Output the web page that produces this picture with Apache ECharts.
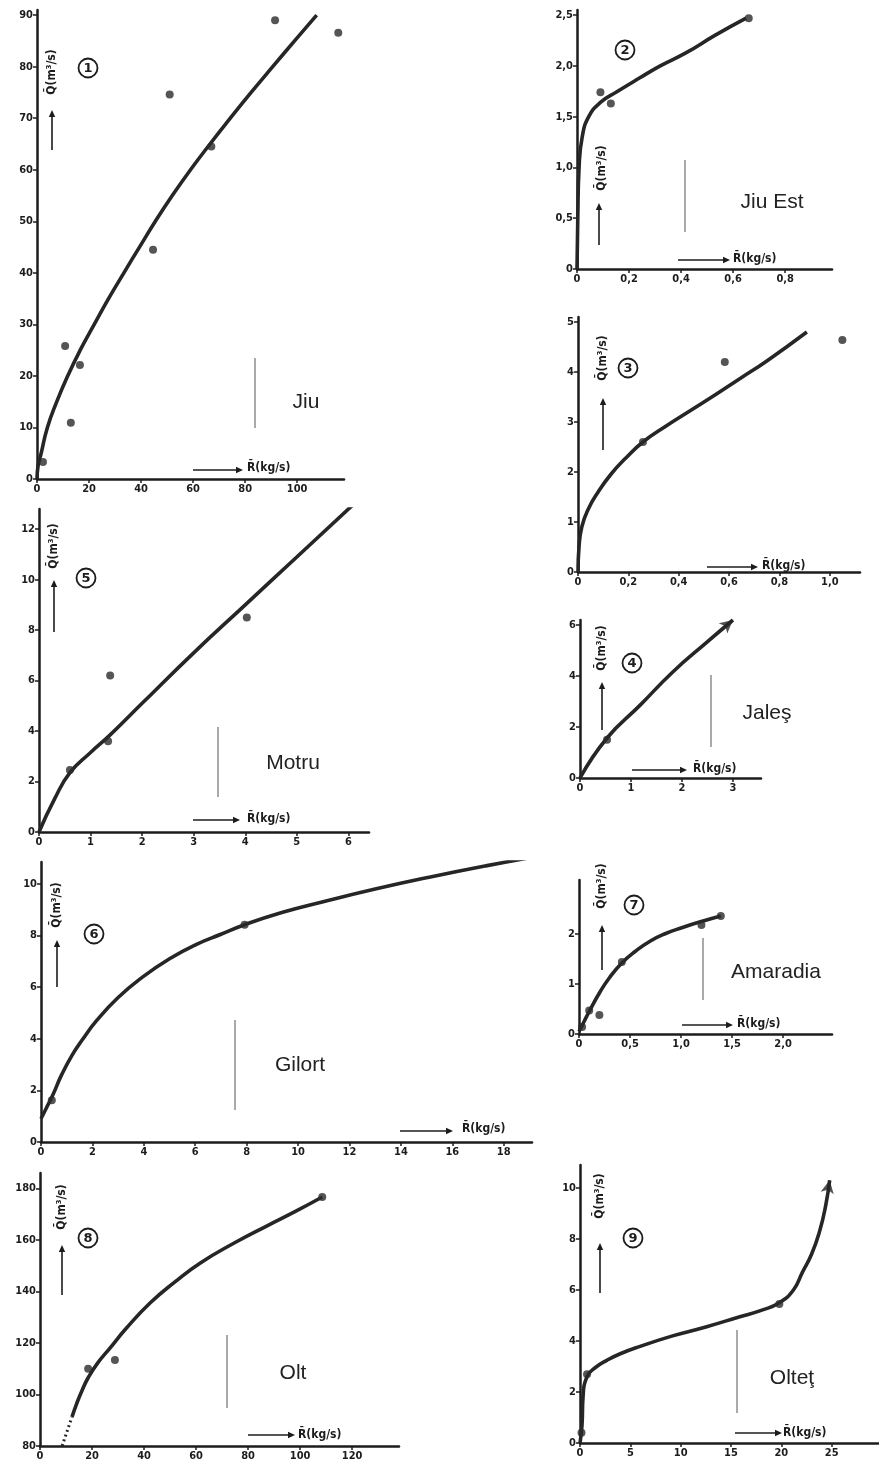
<!DOCTYPE html>
<html><head><meta charset="utf-8">
<script src="https://cdn.jsdelivr.net/npm/echarts@6/dist/echarts.min.js"></script>
<style>html,body{margin:0;padding:0;background:#fff}#c{width:879px;height:1470px}</style>
</head><body><div id="c"></div>
<script>
// ---------- DATA ----------
// 1 Jiu
const jiuCurve = [[0,0],[0.4,2.5],[1.6,5],[4,10],[7.6,15],[11.8,20],[16.6,25],[22,30],[27.5,35],[33.4,40],[39.4,45],[45.5,50],[52,55],[59,60],[66.5,65],[74.3,70],[82.3,75],[90.6,80],[99,85],[107.5,90]];
const jiuPts = [[2.3,3.3],[10.8,25.8],[13,10.9],[16.5,22.1],[44.6,44.5],[51,74.6],[67,64.5],[91.5,89],[115.8,86.6]];
const jiuXTicks = [0,20,40,60,80,100];
const jiuXLabels = ['0','20','40','60','80','100'];
const jiuYTicks = [0,10,20,30,40,50,60,70,80,90];
const jiuYLabels = ['0','10','20','30','40','50','60','70','80','90'];
// 2 Jiu Est
const jiuEstCurve = [[0,0],[0.003,0.5],[0.008,1.0],[0.02,1.3],[0.045,1.5],[0.09,1.64],[0.15,1.74],[0.24,1.88],[0.32,2.0],[0.42,2.13],[0.53,2.3],[0.65,2.47]];
const jiuEstPts = [[0.09,1.74],[0.13,1.63],[0.66,2.47]];
const jiuEstXTicks = [0,0.2,0.4,0.6,0.8];
const jiuEstXLabels = ['0','0,2','0,4','0,6','0,8'];
const jiuEstYTicks = [0,0.5,1,1.5,2,2.5];
const jiuEstYLabels = ['0','0,5','1,0','1,5','2,0','2,5'];
// 3 (unnamed)
const p3Curve = [[0,0],[0.004,0.5],[0.015,0.9],[0.04,1.25],[0.08,1.6],[0.13,1.95],[0.19,2.28],[0.258,2.6],[0.35,2.92],[0.45,3.24],[0.55,3.56],[0.65,3.89],[0.75,4.22],[0.909,4.8]];
const p3Pts = [[0.258,2.6],[0.583,4.2],[1.05,4.64]];
const p3XTicks = [0,0.2,0.4,0.6,0.8,1.0];
const p3XLabels = ['0','0,2','0,4','0,6','0,8','1,0'];
const p3YTicks = [0,1,2,3,4,5];
const p3YLabels = ['0','1','2','3','4','5'];
// 4 Jaleş
const jalesCurve = [[0,0],[0.53,1.57],[1.18,2.86],[1.82,4.16],[2.49,5.33],[3.0,6.2]];
const jalesPts = [[0.53,1.5]];
const jalesXTicks = [0,1,2,3];
const jalesXLabels = ['0','1','2','3'];
const jalesYTicks = [0,2,4,6];
const jalesYLabels = ['0','2','4','6'];
// 5 Motru
const motruCurve = [[0,0],[0.3,1.3],[0.6,2.35],[1.0,3.15],[1.38,3.85],[2.0,5.1],[3.0,7.1],[4.0,9.0],[5.0,10.9],[6.16,13.1]];
const motruPts = [[0.6,2.46],[1.38,6.2],[1.34,3.6],[4.03,8.5],[6.16,13.1]];
const motruXTicks = [0,1,2,3,4,5,6];
const motruXLabels = ['0','1','2','3','4','5','6'];
const motruYTicks = [0,2,4,6,8,10,12];
const motruYLabels = ['0','2','4','6','8','10','12'];
// 6 Gilort
const gilortCurve = [[0,0.9],[0.2,1.3],[0.45,1.8],[0.8,2.6],[1.2,3.35],[1.6,3.95],[2.16,4.7],[3,5.6],[3.96,6.4],[5,7.1],[6.05,7.66],[7,8.05],[7.92,8.42],[9.4,8.9],[10.9,9.29],[13,9.8],[15.1,10.26],[17.3,10.7],[19.5,11.1]];
const gilortPts = [[0.42,1.62],[7.92,8.42]];
const gilortXTicks = [0,2,4,6,8,10,12,14,16,18];
const gilortXLabels = ['0','2','4','6','8','10','12','14','16','18'];
const gilortYTicks = [0,2,4,6,8,10];
const gilortYLabels = ['0','2','4','6','8','10'];
// 7 Amaradia
const amaradiaCurve = [[0,0.05],[0.05,0.25],[0.1,0.45],[0.2,0.82],[0.3,1.13],[0.42,1.42],[0.55,1.65],[0.7,1.86],[0.85,2.01],[1.0,2.12],[1.2,2.25],[1.39,2.36]];
const amaradiaPts = [[0.03,0.14],[0.1,0.47],[0.2,0.38],[0.42,1.44],[1.2,2.18],[1.39,2.36]];
const amaradiaXTicks = [0,0.5,1,1.5,2];
const amaradiaXLabels = ['0','0,5','1,0','1,5','2,0'];
const amaradiaYTicks = [0,1,2];
const amaradiaYLabels = ['0','1','2'];
// 8 Olt
const oltDotted = [[8.5,80],[12.3,91.3]];
const oltCurve = [[12.3,91.3],[14,96.2],[16,101.2],[18.5,106.5],[22,112],[26.9,118],[33,125.5],[42.3,135.5],[52,143.8],[61.5,151],[75,159],[87.3,165.5],[98,171],[108.5,176.7]];
const oltPts = [[18.5,110],[28.8,113.4],[108.5,176.7]];
const oltXTicks = [0,20,40,60,80,100,120];
const oltXLabels = ['0','20','40','60','80','100','120'];
const oltYTicks = [80,100,120,140,160,180];
const oltYLabels = ['80','100','120','140','160','180'];
// 9 Olteţ
const oltetCurve = [[0,0],[0.2,0.7],[0.3,1.8],[0.7,2.6],[1.5,2.95],[2.7,3.25],[4,3.5],[5.9,3.78],[9.2,4.2],[12.5,4.55],[15.8,4.94],[18,5.2],[19.8,5.5],[21.2,6.0],[22.1,6.7],[23,7.4],[23.8,8.3],[24.4,9.3],[24.8,10.3]];
const oltetPts = [[0.15,0.4],[0.7,2.7],[19.8,5.45]];
const oltetXTicks = [0,5,10,15,20,25];
const oltetXLabels = ['0','5','10','15','20','25'];
const oltetYTicks = [0,2,4,6,8,10];
const oltetYLabels = ['0','2','4','6','8','10'];

// ---------- LAYOUT ----------
const panels = [
 {curve:jiuCurve, pts:jiuPts, xt:jiuXTicks, xl:jiuXLabels, yt:jiuYTicks, yl:jiuYLabels, x:[0,118,20], y:[0,91,10], g:{left:37,top:10,width:307,height:469}},
 {curve:jiuEstCurve, pts:jiuEstPts, xt:jiuEstXTicks, xl:jiuEstXLabels, yt:jiuEstYTicks, yl:jiuEstYLabels, x:[0,0.98,0.2], y:[0,2.55,0.5], g:{left:577,top:10,width:255,height:259}},
 {curve:p3Curve, pts:p3Pts, xt:p3XTicks, xl:p3XLabels, yt:p3YTicks, yl:p3YLabels, x:[0,1.12,0.2], y:[0,5.1,1], g:{left:578,top:317,width:282,height:255}},
 {curve:jalesCurve, pts:jalesPts, xt:jalesXTicks, xl:jalesXLabels, yt:jalesYTicks, yl:jalesYLabels, x:[0,3.55,1], y:[0,6.2,2], g:{left:580,top:620,width:181,height:158}, arrow:-50},
 {curve:motruCurve, pts:motruPts, xt:motruXTicks, xl:motruXLabels, yt:motruYTicks, yl:motruYLabels, x:[0,6.4,1], y:[0,12.8,2], g:{left:39,top:509,width:330,height:323}},
 {curve:gilortCurve, pts:gilortPts, xt:gilortXTicks, xl:gilortXLabels, yt:gilortYTicks, yl:gilortYLabels, x:[0,19.1,2], y:[0,10.85,2], g:{left:41,top:862,width:491,height:280}, arrow:-79},
 {curve:amaradiaCurve, pts:amaradiaPts, xt:amaradiaXTicks, xl:amaradiaXLabels, yt:amaradiaYTicks, yl:amaradiaYLabels, x:[0,2.48,0.5], y:[0,3.08,1], g:{left:579,top:880,width:253,height:154}},
 {curve:oltCurve, dotted:oltDotted, pts:oltPts, xt:oltXTicks, xl:oltXLabels, yt:oltYTicks, yl:oltYLabels, x:[0,138,20], y:[80,186,20], g:{left:40,top:1173,width:359,height:273}},
 {curve:oltetCurve, pts:oltetPts, xt:oltetXTicks, xl:oltetXLabels, yt:oltetYTicks, yl:oltetYLabels, x:[0,29.7,5], y:[0,10.9,2], g:{left:580,top:1165,width:299,height:278}, arrow:-11}
];

const deco = [
 {num:'1', np:[88,68], name:'Jiu', nameP:[306,402], vl:[255,358,428], qt:[52,72], qa:[52,150,110], ra:[193,243,470], rt:[247,468]},
 {num:'2', np:[625,50], name:'Jiu Est', nameP:[772,202], vl:[685,160,232], qt:[602,168], qa:[599,245,203], ra:[678,730,260], rt:[733,259]},
 {num:'3', np:[628,368], name:'', vl:null, qt:[603,358], qa:[603,450,398], ra:[707,758,567], rt:[762,566]},
 {num:'4', np:[632,663], name:'Jaleş', nameP:[767,713], vl:[711,675,747], qt:[602,648], qa:[602,730,682], ra:[632,687,770], rt:[693,769]},
 {num:'5', np:[86,578], name:'Motru', nameP:[293,763], vl:[218,727,797], qt:[54,546], qa:[54,632,580], ra:[193,240,820], rt:[247,819]},
 {num:'6', np:[94,934], name:'Gilort', nameP:[300,1065], vl:[235,1020,1110], qt:[57,905], qa:[57,987,940], ra:[400,453,1131], rt:[462,1129]},
 {num:'7', np:[634,905], name:'Amaradia', nameP:[776,972], vl:[703,938,1000], qt:[602,886], qa:[602,970,925], ra:[682,733,1025], rt:[737,1024]},
 {num:'8', np:[88,1238], name:'Olt', nameP:[293,1373], vl:[227,1335,1408], qt:[62,1207], qa:[62,1295,1245], ra:[248,295,1435], rt:[298,1435]},
 {num:'9', np:[633,1238], name:'Olteţ', nameP:[792,1378], vl:[737,1330,1413], qt:[600,1196], qa:[600,1293,1243], ra:[735,782,1433], rt:[783,1433]}
];

const INK = '#1c1c1c';
function fmt(ticks, labels){
  return function(v){
    for (let i=0;i<ticks.length;i++){ if (Math.abs(ticks[i]-v) < 1e-6) return labels[i]; }
    return '';
  };
}
const labelFont = {color:INK, fontFamily:'DejaVu Sans Condensed, DejaVu Sans', fontWeight:'bold', fontSize:11};

const grids=[], xAxes=[], yAxes=[], series=[];
panels.forEach((p,i)=>{
  grids.push(Object.assign({containLabel:false, outerBoundsMode:'none'}, p.g));
  xAxes.push({gridIndex:i, type:'value', min:p.x[0], max:p.x[1], interval:p.x[2],
    axisLine:{show:true,onZero:false,lineStyle:{color:INK,width:2.5}},
    axisTick:{show:true,length:4,customValues:p.xt,lineStyle:{color:INK,width:1.5}},
    axisLabel:Object.assign({margin:5, customValues:p.xt, formatter:fmt(p.xt,p.xl), showMaxLabel:true}, labelFont),
    splitLine:{show:false}});
  yAxes.push({gridIndex:i, type:'value', min:p.y[0], max:p.y[1], interval:p.y[2],
    axisLine:{show:true,onZero:false,lineStyle:{color:INK,width:2.5}},
    axisTick:{show:true,length:4,customValues:p.yt,lineStyle:{color:INK,width:1.5}},
    axisLabel:Object.assign({margin:4, customValues:p.yt, formatter:fmt(p.yt,p.yl)}, labelFont),
    splitLine:{show:false}});
  series.push({type:'line', xAxisIndex:i, yAxisIndex:i, data:p.curve, smooth:0.5, symbol:'none',
    lineStyle:{color:'#262626', width:3.6}, silent:true, z:3});
  if (p.dotted) series.push({type:'line', xAxisIndex:i, yAxisIndex:i, data:p.dotted, symbol:'none',
    lineStyle:{color:'#262626', width:3, type:[2,3]}, silent:true});
  series.push({type:'scatter', xAxisIndex:i, yAxisIndex:i, data:p.pts, symbolSize:8,
    itemStyle:{color:'#2a2a2a'}, z:4});
  if (p.arrow !== undefined){
    const last = p.curve[p.curve.length-1];
    series.push({type:'scatter', xAxisIndex:i, yAxisIndex:i,
      data:[{value:last, symbol:'arrow', symbolRotate:p.arrow, symbolSize:[10,13]}],
      itemStyle:{color:'#262626'}, z:5});
  }
});

const graphic = [];
function arrowEls(x1,y1,x2,y2){
  const ang = Math.atan2(y2-y1, x2-x1), L=7, W=3.2;
  const bx = x2 - L*Math.cos(ang), by = y2 - L*Math.sin(ang);
  const nx = -Math.sin(ang)*W, ny = Math.cos(ang)*W;
  return [
    {type:'line', shape:{x1:x1,y1:y1,x2:bx,y2:by}, style:{stroke:INK, lineWidth:1.6}},
    {type:'polygon', shape:{points:[[x2,y2],[bx+nx,by+ny],[bx-nx,by-ny]]}, style:{fill:INK}}
  ];
}
deco.forEach(d=>{
  graphic.push({type:'circle', shape:{cx:d.np[0], cy:d.np[1], r:9.5}, style:{fill:'none', stroke:INK, lineWidth:1.8}});
  graphic.push({type:'text', x:d.np[0], y:d.np[1]+1, style:{text:d.num, fill:INK, font:'bold 13px DejaVu Sans', align:'center', verticalAlign:'middle'}});
  if (d.name) graphic.push({type:'text', x:d.nameP[0], y:d.nameP[1], style:{text:d.name, fill:'#222', font:'21px Liberation Sans', align:'center', verticalAlign:'middle'}});
  if (d.vl) graphic.push({type:'line', shape:{x1:d.vl[0],y1:d.vl[1],x2:d.vl[0],y2:d.vl[2]}, style:{stroke:'#555', lineWidth:1}});
  graphic.push({type:'text', x:d.qt[0], y:d.qt[1], rotation:Math.PI/2, style:{text:'Q\u0304(m\u00B3/s)', fill:INK, font:'bold 12px DejaVu Sans Condensed', align:'center', verticalAlign:'middle'}});
  arrowEls(d.qa[0], d.qa[1], d.qa[0], d.qa[2]).forEach(e=>graphic.push(e));
  arrowEls(d.ra[0], d.ra[2], d.ra[1], d.ra[2]).forEach(e=>graphic.push(e));
  graphic.push({type:'text', x:d.rt[0], y:d.rt[1], style:{text:'R\u0304(kg/s)', fill:INK, font:'bold 12px DejaVu Sans Condensed', align:'left', verticalAlign:'middle'}});
});

const chart = echarts.init(document.getElementById('c'), null, {renderer:'canvas'});
chart.setOption({backgroundColor:'#fff', animation:false, grid:grids, xAxis:xAxes, yAxis:yAxes, series:series, graphic:graphic});
</script></body></html>
